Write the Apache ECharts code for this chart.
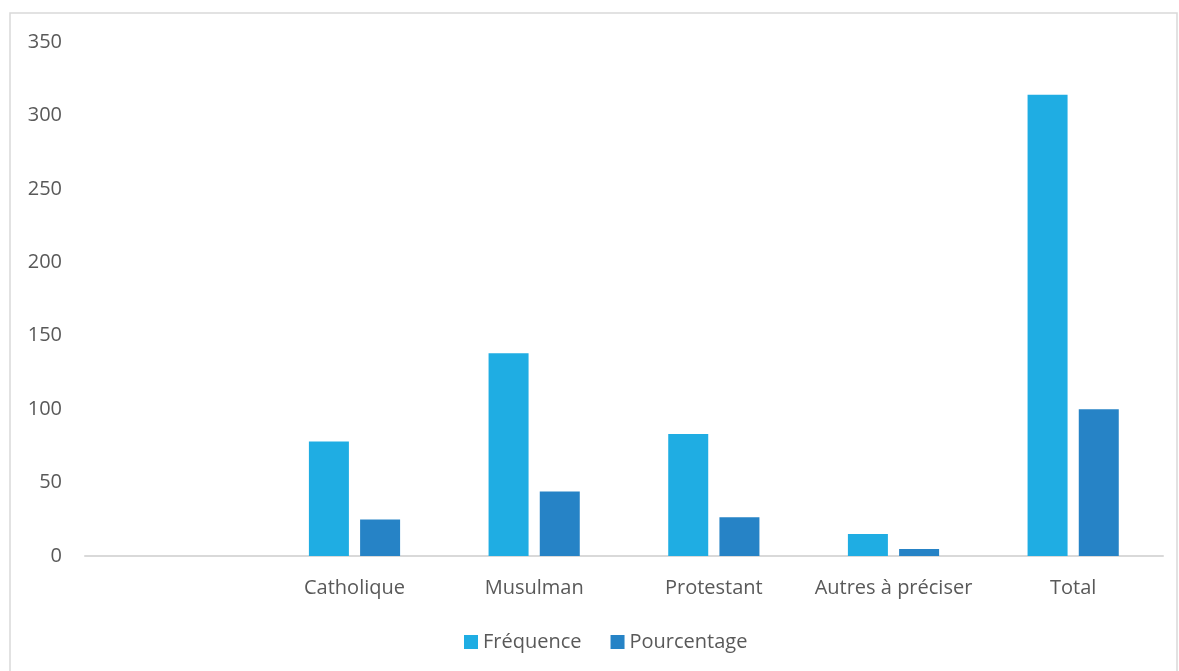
<!DOCTYPE html>
<html>
<head>
<meta charset="utf-8">
<script src="https://cdn.jsdelivr.net/npm/echarts@6/dist/echarts.min.js"></script>
<style>
html,body{margin:0;padding:0;background:#fff;}
#c{width:1179px;height:671px;}
</style>
</head>
<body>
<div id="c"></div>
<script>
var categories = ['', 'Catholique', 'Musulman', 'Protestant', 'Autres à préciser', 'Total'];
var frequence = [null, 78, 138, 83, 15, 314];
var pourcentage = [null, 24.8, 43.9, 26.4, 4.8, 100];
var yTicks = {min: 0, max: 350, interval: 50};

var chart = echarts.init(document.getElementById('c'), null, {renderer: 'canvas'});
var font = '"Open Sans", "Liberation Sans", sans-serif';
chart.setOption({
  animation: false,
  textStyle: {fontFamily: font},
  graphic: [{
    type: 'rect', silent: true,
    shape: {x: 10, y: 13, width: 1167, height: 700},
    style: {fill: 'none', stroke: '#d9d9d9', lineWidth: 1.5}
  }],
  grid: {left: 85, right: 16, top: 42, bottom: 115, containLabel: false},
  legend: {
    data: ['Fréquence', 'Pourcentage'],
    top: 627, left: 459,
    icon: 'rect', itemWidth: 14, itemHeight: 14, itemGap: 29, itemTextGap: 7,
    textStyle: {fontSize: 20, color: '#595959', fontFamily: font}
  },
  xAxis: {
    type: 'category', data: categories,
    axisLine: {show: true, lineStyle: {color: '#d9d9d9', width: 2}},
    axisTick: {show: false},
    axisLabel: {fontSize: 20, interval: 0, color: '#595959', margin: 22, fontFamily: font}
  },
  yAxis: {
    type: 'value', min: yTicks.min, max: yTicks.max, interval: yTicks.interval,
    axisLine: {show: false}, axisTick: {show: false},
    splitLine: {show: false},
    axisLabel: {fontSize: 20, color: '#595959', margin: 23, fontFamily: font}
  },
  series: [
    {name: 'Fréquence', type: 'bar', data: frequence, barWidth: 40, barGap: '28%',
     itemStyle: {color: '#1fade3'}},
    {name: 'Pourcentage', type: 'bar', data: pourcentage, barWidth: 40,
     itemStyle: {color: '#2683c6'}}
  ]
});
</script>
</body>
</html>
